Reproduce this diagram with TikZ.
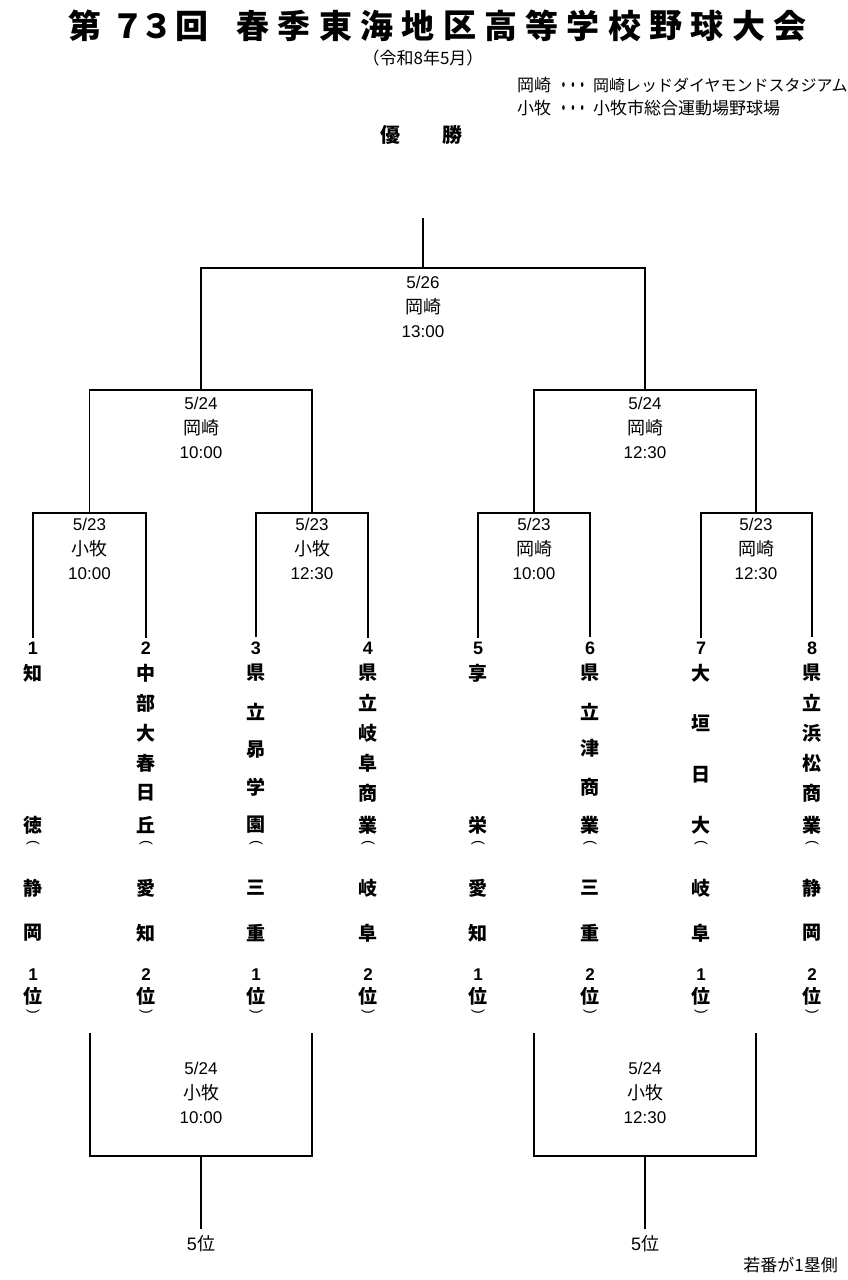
\documentclass[tikz,border=0pt]{standalone}
\usepackage{fontspec}
\setmainfont{Liberation Sans}
\newfontfamily\jp{Noto Sans CJK JP}
\newcommand\gamelbl[6]{%
  \node[lbl] (#1d) at (#2,#3) {#4};
  \node[lbj] (#1p) at (#2,#3+25) {#5};
  \node[lbl] (#1t) at (#2,#3+50) {#6};}
\begin{document}
\begin{tikzpicture}[x=1pt,y=-1pt,
  ln/.style={line width=1.4pt},
  lbl/.style={inner sep=0pt,font=\fontsize{17}{17}\selectfont},
  lbj/.style={inner sep=0pt,font=\jp\fontsize{18}{18}\selectfont},
  nm/.style={inner sep=0pt,font=\jp\bfseries\fontsize{19}{19}\selectfont},
  num/.style={inner sep=0pt,font=\bfseries\fontsize{18}{18}\selectfont},
  par/.style={inner sep=0pt,rotate=-90,font=\fontsize{14}{14}\selectfont},
  ttl/.style={inner sep=0pt,font=\jp\bfseries\fontsize{33}{33}\selectfont},
  sm/.style={inner sep=0pt,font=\jp\fontsize{17}{17}\selectfont},
  dots/.style={inner sep=0pt,anchor=base,xscale=0.55,font=\jp\bfseries\fontsize{17}{17}\selectfont}]
\useasboundingbox (0,0) rectangle (847,1280);

% title
\foreach \c/\x [count=\k] in {第/85,７/128,３/157,回/192}
  \node[ttl] (ta\k) at (\x,26) {\c};
\foreach \c [count=\k from 0] in {春,季,東,海,地,区,高,等,学,校,野,球,大,会}
  \node[ttl] (tb\k) at (253+41.3*\k,26) {\c};
\node[sm] (era) at (423,58) {（令和8年5月）};
\node[sm,anchor=west] (lg1a) at (517,85) {岡崎};
\node[dots] (lg1b) at (573,91) {・・・};
\node[sm,anchor=west,font=\jp\fontsize{16}{16}\selectfont] (lg1c) at (593,85) {岡崎レッドダイヤモンドスタジアム};
\node[sm,anchor=west] (lg2a) at (517,108) {小牧};
\node[dots] (lg2b) at (573,114) {・・・};
\node[sm,anchor=west] (lg2c) at (593,108) {小牧市総合運動場野球場};
\node[nm,font=\jp\bfseries\fontsize{20}{20}\selectfont] (win1) at (390,135) {優};
\node[nm,font=\jp\bfseries\fontsize{20}{20}\selectfont] (win2) at (452,135) {勝};

% bracket coordinates
\coordinate (top) at (423,218);
\coordinate (f) at (423,268);
\coordinate (s1) at (201,390);
\coordinate (s2) at (645,390);
\coordinate (m1) at (89.5,513);
\coordinate (m2) at (312,513);
\coordinate (m3) at (534,513);
\coordinate (m4) at (756,513);

% team numbers
\foreach \x [count=\i] in {33,146,256,368,478,590,701,812}
  \node[num] (n\i) at (\x,648) {\i};

\draw[ln] ([yshift=4pt]n1.north) |- (m1) -| ([yshift=4pt]n2.north);
\draw[ln] ([yshift=4pt]n3.north) |- (m2) -| ([yshift=4pt]n4.north);
\draw[ln] ([yshift=4pt]n5.north) |- (m3) -| ([yshift=4pt]n6.north);
\draw[ln] ([yshift=4pt]n7.north) |- (m4) -| ([yshift=4pt]n8.north);
\draw[ln] (m1) |- (s1) -| (m2);
\draw[ln] (m3) |- (s2) -| (m4);
\draw[ln] (s1) |- (f) -| (s2);
\draw[ln] (f) -- (top);

% match labels
\gamelbl{g0}{423}{282}{5/26}{岡崎}{13:00}
\gamelbl{g1}{201}{403}{5/24}{岡崎}{10:00}
\gamelbl{g2}{645}{403}{5/24}{岡崎}{12:30}
\gamelbl{g3}{89.5}{524}{5/23}{小牧}{10:00}
\gamelbl{g4}{312}{524}{5/23}{小牧}{12:30}
\gamelbl{g5}{534}{524}{5/23}{岡崎}{10:00}
\gamelbl{g6}{756}{524}{5/23}{岡崎}{12:30}

% team names
\foreach \c/\y [count=\k] in {知/673,徳/825}
  \node[nm] (c1-\k) at (33,\y) {\c};
\foreach \c/\y [count=\k] in {中/673,部/703,大/733,春/763,日/793,丘/825}
  \node[nm] (c2-\k) at (146,\y) {\c};
\foreach \c/\y [count=\k] in {県/673,立/712,昴/750,学/787,園/825}
  \node[nm] (c3-\k) at (256,\y) {\c};
\foreach \c/\y [count=\k] in {県/673,立/703,岐/733,阜/763,商/793,業/825}
  \node[nm] (c4-\k) at (368,\y) {\c};
\foreach \c/\y [count=\k] in {享/673,栄/825}
  \node[nm] (c5-\k) at (478,\y) {\c};
\foreach \c/\y [count=\k] in {県/673,立/712,津/748,商/787,業/825}
  \node[nm] (c6-\k) at (590,\y) {\c};
\foreach \c/\y [count=\k] in {大/673,垣/723,日/775,大/825}
  \node[nm] (c7-\k) at (701,\y) {\c};
\foreach \c/\y [count=\k] in {県/673,立/703,浜/733,松/763,商/793,業/825}
  \node[nm] (c8-\k) at (812,\y) {\c};

\foreach \x/\p/\q/\r [count=\i] in {33/静/岡/1,146/愛/知/2,256/三/重/1,368/岐/阜/2,478/愛/知/1,590/三/重/2,701/岐/阜/1,812/静/岡/2}{
  \node[par] (o\i) at (\x,843) {(};
  \node[nm] (pa\i) at (\x,888) {\p};
  \node[nm] (pb\i) at (\x,933) {\q};
  \node[num,font=\bfseries\fontsize{17}{17}\selectfont] (r\i) at (\x,975) {\r};
  \node[nm] (w\i) at (\x,996) {位};
  \node[par] (cl\i) at (\x,1012) {)};
}

% fifth place games
\coordinate (q1) at (90,1033);
\coordinate (q2) at (312,1033);
\coordinate (q3) at (534,1033);
\coordinate (q4) at (756,1033);
\coordinate (b1) at (201,1156);
\coordinate (b2) at (645,1156);
\node[lbl,font=\fontsize{18}{18}\selectfont] (p1) at (201,1244) {5{\jp 位}};
\node[lbl,font=\fontsize{18}{18}\selectfont] (p2) at (645,1244) {5{\jp 位}};
\draw[ln] (q1) |- (b1) -| (q2);
\draw[ln] (q3) |- (b2) -| (q4);
\draw[ln] (b1) -- ([yshift=7pt]p1.north);
\draw[ln] (b2) -- ([yshift=7pt]p2.north);
\gamelbl{h1}{201}{1068}{5/24}{小牧}{10:00}
\gamelbl{h2}{645}{1068}{5/24}{小牧}{12:30}

\node[sm,anchor=east] (note) at (838,1265) {若番が1塁側};
\end{tikzpicture}
\end{document}
